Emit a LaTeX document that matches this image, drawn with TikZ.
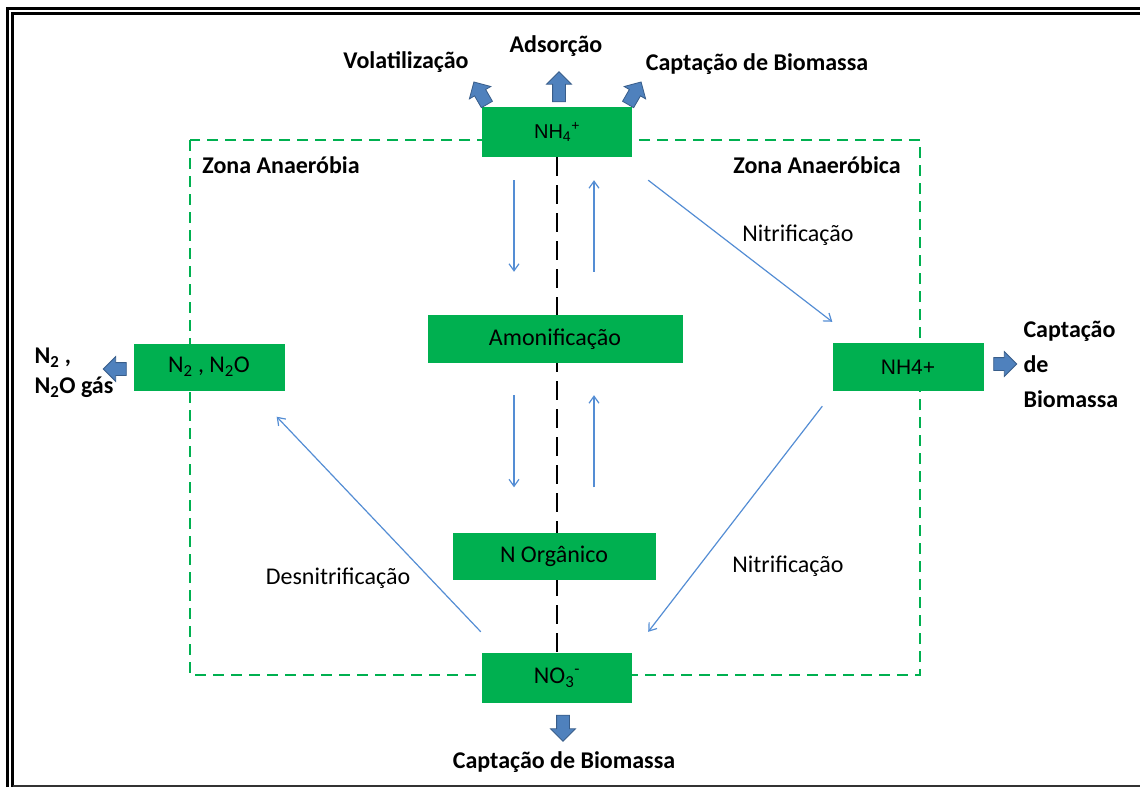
\documentclass[tikz,border=0pt]{standalone}
\usepackage{fontspec}
\setmainfont{Carlito}
\newfontfamily\arialfont{Liberation Sans}
\usetikzlibrary{arrows.meta,shapes.arrows,backgrounds}

\definecolor{boxgreen}{RGB}{0,176,80}
\definecolor{flowblue}{RGB}{84,141,212}
\definecolor{fatblue}{RGB}{79,129,189}
\definecolor{fatedge}{RGB}{56,93,138}

\tikzset{
  pool/.style={fill=boxgreen, inner sep=0pt, font=\fontsize{24}{28}\selectfont},
  flow/.style={draw=flowblue, line width=1.2pt, -{Straight Barb[length=7pt,width=10pt]}},
  fat/.style={single arrow, fill=fatblue, draw=fatedge, line width=0.8pt,
    minimum height=26pt, inner xsep=0pt, inner ysep=6pt,
    single arrow head extend=6pt, single arrow head indent=0pt},
  outlabel/.style={font=\bfseries\fontsize{24}{28}\selectfont},
  proc/.style={font=\fontsize{24}{28}\selectfont}
}

\begin{document}
\begin{tikzpicture}[x=1pt,y=-1pt]
  \useasboundingbox (0,0) rectangle (1140,787);

  % frame
  \draw[line width=3pt] (7.5,787) -- (7.5,8) -- (1140,8);
  \draw[line width=2.4pt] (12.5,787) -- (12.5,13.5) -- (1140,13.5);
  \draw[line width=2pt, black!80] (12.5,785.8) -- (1140,785.8);

  % pools
  \node[pool, minimum width=150pt, minimum height=50pt, font=\arialfont\fontsize{20}{24}\selectfont] (nhtop) at (557,132) {NH\textsubscript{4}\textsuperscript{+}};
  \node[pool, minimum width=255pt, minimum height=48pt] (amon) at (555,339) {Amonificação};
  \node[pool, minimum width=203pt, minimum height=47pt] (norg) at (554,556) {N Orgânico};
  \node[pool, minimum width=150pt, minimum height=50pt] (no3) at (557,678) {NO\textsubscript{3}\textsuperscript{-}};
  \node[pool, minimum width=151pt, minimum height=47pt] (n2) at (209,367) {N\textsubscript{2} , N\textsubscript{2}O};
  \node[pool, minimum width=151pt, minimum height=48pt, font=\arialfont\fontsize{21}{24}\selectfont] (nhside) at (908,367) {NH4+};

  % zone and axis, behind the pools
  \begin{scope}[on background layer]
    \draw[boxgreen, line width=2.6pt, dash pattern=on 11pt off 7pt] (190,140) rectangle (920,675);
    \draw[line width=2.6pt, dash pattern=on 19pt off 9pt] (nhtop.south) -- (no3.north);
  \end{scope}

  \node[outlabel] (zoneleft) at (281,165) {Zona Anaeróbia};
  \node[outlabel] (zoneright) at (817,165) {Zona Anaeróbica};

  % losses
  \node[fat, rotate=120] (upleft) at (482,96) {};
  \node[fat, rotate=90, minimum height=30pt] (upmid) at (559,90) {};
  \node[fat, rotate=60] (upright) at (633,96) {};
  \node[fat, rotate=180, minimum height=23pt] (outleft) at (118,369) {};
  \node[fat, minimum height=23pt] (outright) at (1002,364) {};
  \node[fat, rotate=270] (outdown) at (563,725) {};

  \node[outlabel] (volat) at (406,62) {Volatilização};
  \node[outlabel] (adsor) at (556,46) {Adsorção};
  \node[outlabel] (captop) at (757,64) {Captação de Biomassa};
  \node[outlabel, font=\bfseries\fontsize{24}{30}\selectfont, align=left, anchor=west] (gasout) at (31,373) {N\textsubscript{2} ,\\N\textsubscript{2}O gás};
  \node[outlabel, font=\bfseries\fontsize{24}{35}\selectfont, align=left, anchor=west] (capside) at (1020,364) {Captação\\de\\Biomassa};
  \node[outlabel] (capbot) at (564,762) {Captação de Biomassa};

  % flows
  \draw[flow] ([xshift=-43pt,yshift=-23pt]nhtop.south) -- ([xshift=-41pt,yshift=43pt]amon.north);
  \draw[flow] ([xshift=39pt,yshift=43pt]amon.north) -- ([xshift=37pt,yshift=-23pt]nhtop.south);
  \draw[flow] ([xshift=-41pt,yshift=-32pt]amon.south) -- ([xshift=-40pt,yshift=45pt]norg.north);
  \draw[flow] ([xshift=40pt,yshift=45pt]norg.north) -- ([xshift=39pt,yshift=-32pt]amon.south);
  \draw[flow] ([xshift=16pt,yshift=-23pt]nhtop.south east) -- ([yshift=21pt]nhside.north west);
  \draw[flow] ([xshift=-10pt,yshift=-15pt]nhside.south west) -- ([xshift=16pt,yshift=21pt]no3.north east);
  \draw[flow] ([xshift=-1pt,yshift=21pt]no3.north west) -- ([xshift=-8pt,yshift=-26pt]n2.south east);

  \node[proc] (nitrup) at (798,235) {Nitrificação};
  \node[proc] (nitrdown) at (788,566) {Nitrificação};
  \node[proc] (desnit) at (338,578) {Desnitrificação};
\end{tikzpicture}
\end{document}
